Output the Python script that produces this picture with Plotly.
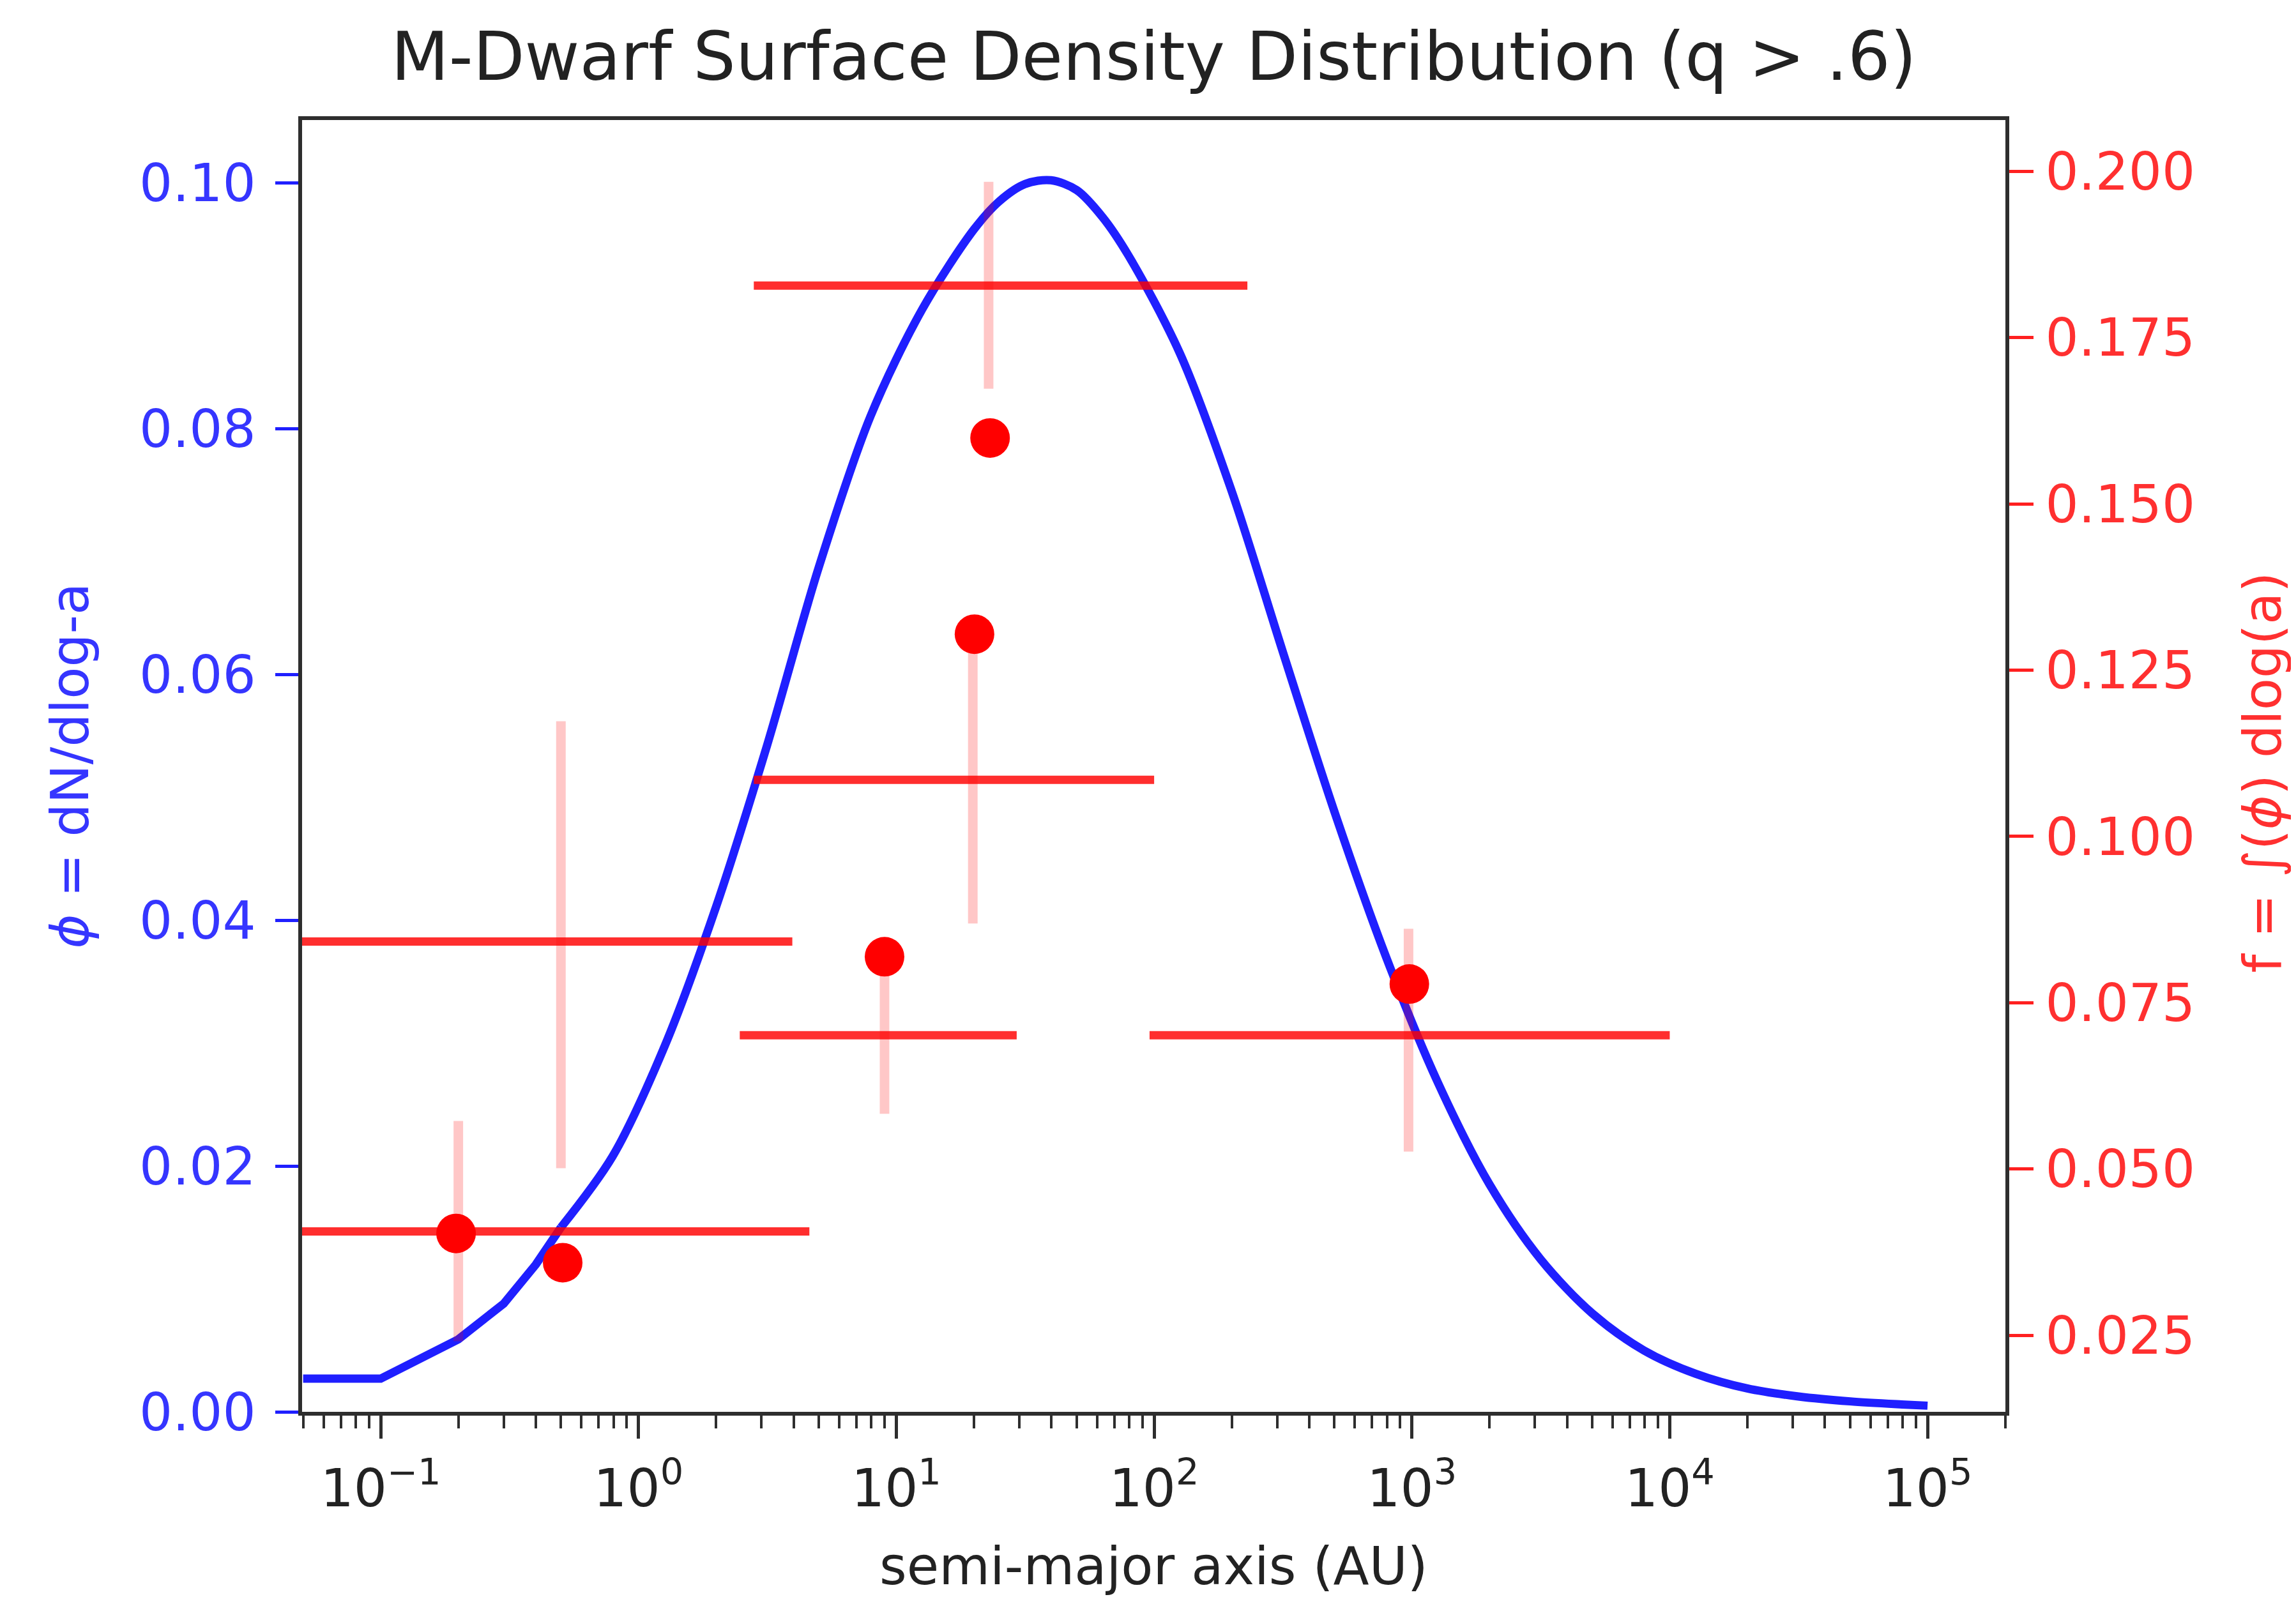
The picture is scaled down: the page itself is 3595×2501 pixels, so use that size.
import plotly.graph_objects as go

# ---------------- data ----------------
# model curve phi = dN/dlog-a  (left axis)
curve_a = [0.05, 0.1, 0.2, 0.3, 0.4, 0.5, 0.794, 1.26, 2.0, 3.16, 5.0, 7.94,
           12.6, 20.0, 25.1, 31.6, 39.8, 50.1, 63.1, 79.4, 126, 200, 316, 501,
           794, 1260, 2000, 3160, 5010, 7940, 12600, 20000, 31600, 50100,
           79400, 100000]
curve_phi = [0.0027, 0.0027, 0.0059, 0.0088, 0.0120, 0.0150, 0.0208, 0.0297,
             0.0411, 0.0543, 0.0687, 0.0810, 0.0897, 0.0962, 0.0985, 0.0999,
             0.1002, 0.0994, 0.0972, 0.0941, 0.0861, 0.0749, 0.0618, 0.0488,
             0.0370, 0.0268, 0.0185, 0.0124, 0.0080, 0.0050, 0.0031, 0.0019,
             0.00125, 0.00085, 0.0006, 0.0005]

# bin widths (right axis)
bin_lo = [2.8, 2.8, 0.01, 2.47, 0.01, 96]
bin_hi = [230, 100, 3.95, 29.3, 4.6, 10000]
bin_f = [0.1828, 0.1085, 0.0842, 0.0701, 0.0406, 0.0701]

# measured points (right axis)
pt_a = [0.196, 0.508, 9.0, 20.1, 23.1, 977]
pt_f = [0.0403, 0.0359, 0.0819, 0.1304, 0.1599, 0.0778]

# vertical error bars (right axis)
err_a = [0.2, 0.5, 9.0, 19.8, 22.8, 970]
err_lo = [0.0241, 0.0501, 0.0583, 0.0869, 0.1673, 0.0526]
err_hi = [0.0572, 0.1173, 0.0800, 0.1304, 0.1984, 0.0861]

x_tick_vals = [0.1, 1, 10, 100, 1000, 10000, 100000]
x_tick_text = ["10<sup>−1</sup>", "10<sup>0</sup>", "10<sup>1</sup>",
               "10<sup>2</sup>", "10<sup>3</sup>", "10<sup>4</sup>",
               "10<sup>5</sup>"]
left_ticks = [0.00, 0.02, 0.04, 0.06, 0.08, 0.10]
right_ticks = [0.025, 0.050, 0.075, 0.100, 0.125, 0.150, 0.175, 0.200]

# ---------------- styling ----------------
FONT = "DejaVu Sans"
BLUE = "#1f1fff"
BLUE_TXT = "#3535ff"
RED_TXT = "#ff3030"
SPINE = "#2e2e2e"
FS = 82

fig = go.Figure()

# model curve: straight segments at the coarse low end, smooth afterwards
fig.add_trace(go.Scatter(x=curve_a[:6], y=curve_phi[:6], mode="lines",
                         line=dict(color=BLUE, width=13), yaxis="y",
                         hoverinfo="skip"))
fig.add_trace(go.Scatter(x=curve_a[5:], y=curve_phi[5:], mode="lines",
                         line=dict(color=BLUE, width=13, shape="spline",
                                   smoothing=0.9), yaxis="y",
                         hoverinfo="skip"))

# error bars
ex, ey = [], []
for a, lo, hi in zip(err_a, err_lo, err_hi):
    ex += [a, a, None]
    ey += [lo, hi, None]
fig.add_trace(go.Scatter(x=ex, y=ey, mode="lines", yaxis="y2",
                         line=dict(color="rgba(255,0,0,0.22)", width=15),
                         hoverinfo="skip"))

# bin lines
hx, hy = [], []
for lo, hi, f in zip(bin_lo, bin_hi, bin_f):
    hx += [lo, hi, None]
    hy += [f, f, None]
fig.add_trace(go.Scatter(x=hx, y=hy, mode="lines", yaxis="y2",
                         line=dict(color="rgba(255,0,0,0.82)", width=13),
                         hoverinfo="skip"))

# points
fig.add_trace(go.Scatter(x=pt_a, y=pt_f, mode="markers", yaxis="y2",
                         marker=dict(color="#ff0000", size=62,
                                     line=dict(width=0)),
                         hoverinfo="skip"))

fig.update_layout(
    width=3595, height=2501,
    margin=dict(l=465, r=463, t=180, b=298),
    paper_bgcolor="white", plot_bgcolor="white",
    showlegend=False,
    font=dict(family=FONT, size=FS, color="#222222"),
    title=dict(text="M-Dwarf Surface Density Distribution (q > .6)",
               font=dict(family=FONT, size=105, color="#222222"),
               x=0.5, xref="paper", xanchor="center",
               y=1 - 80 / 2501, yref="container", yanchor="middle"),
    xaxis=dict(type="log", range=[-1.305, 5.302],
               showline=True, linecolor=SPINE, linewidth=6, mirror=True,
               ticks="outside", ticklen=36, tickwidth=5, tickcolor=SPINE,
               tickvals=x_tick_vals, ticktext=x_tick_text,
               tickfont=dict(family=FONT, size=FS, color="#222222"),
               ticklabelstandoff=8,
               showgrid=False, zeroline=False,
               minor=dict(ticks="outside", ticklen=20, tickwidth=4,
                          tickcolor=SPINE, dtick="D1", showgrid=False)),
    yaxis=dict(range=[0, 0.1051], tickvals=left_ticks, tickformat=".2f",
               showline=True, linecolor=SPINE, linewidth=6,
               ticks="outside", ticklen=36, tickwidth=5, tickcolor=BLUE,
               tickfont=dict(family=FONT, size=FS, color=BLUE_TXT),
               ticklabelstandoff=14,
               showgrid=False, zeroline=False),
    yaxis2=dict(range=[0.01348, 0.2077], tickvals=right_ticks,
                tickformat=".3f", overlaying="y", side="right",
                showline=True, linecolor=SPINE, linewidth=6,
                ticks="outside", ticklen=38, tickwidth=5, tickcolor="#ff2020",
                tickfont=dict(family=FONT, size=FS, color=RED_TXT),
                ticklabelstandoff=2,
                showgrid=False, zeroline=False),
    annotations=[
        dict(text="semi-major axis (AU)", xref="paper", yref="paper",
             x=0.5, y=(2203 - 2444) / 2023, xanchor="center",
             yanchor="middle", showarrow=False,
             font=dict(family=FONT, size=FS, color="#222222")),
        dict(text="<i>ϕ</i> = dN/dlog-a", xref="paper", yref="paper",
             x=(101 - 465) / 2667, y=0.5, xanchor="center",
             yanchor="middle", textangle=-90, showarrow=False,
             font=dict(family=FONT, size=FS, color=BLUE_TXT)),
        dict(text="f = ∫(<i>ϕ</i>) dlog(a)", xref="paper", yref="paper",
             x=(3535 - 465) / 2667, y=0.495, xanchor="center",
             yanchor="middle", textangle=-90, showarrow=False,
             font=dict(family=FONT, size=FS, color=RED_TXT)),
    ],
)

fig.write_html("out.html")
